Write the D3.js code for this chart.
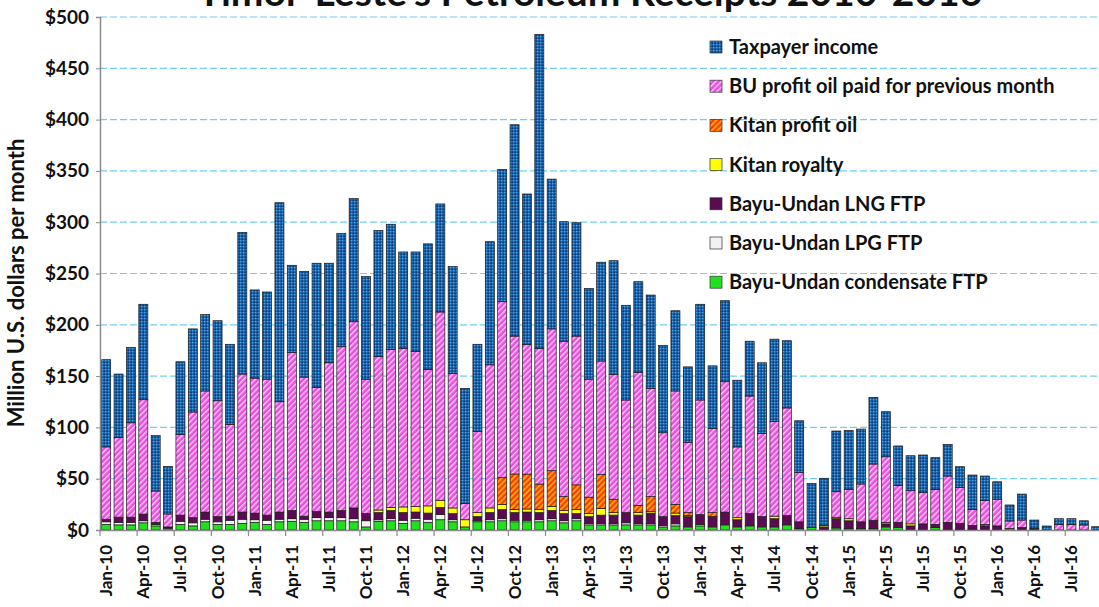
<!DOCTYPE html>
<html>
<head>
<meta charset="utf-8">
<script src="https://cdn.jsdelivr.net/npm/d3@7"></script>
<style>
  body { margin: 0; background: #fff; }
  svg { display: block; font-family: Lato, 'Open Sans', sans-serif; }
</style>
</head>
<body>
<svg id="chart" width="1099" height="607"></svg>
<script>
// monthly categories, Jan-10 .. Sep-16
const months = [
  'Jan-10','Feb-10','Mar-10','Apr-10','May-10','Jun-10','Jul-10','Aug-10','Sep-10','Oct-10','Nov-10','Dec-10',
  'Jan-11','Feb-11','Mar-11','Apr-11','May-11','Jun-11','Jul-11','Aug-11','Sep-11','Oct-11','Nov-11','Dec-11',
  'Jan-12','Feb-12','Mar-12','Apr-12','May-12','Jun-12','Jul-12','Aug-12','Sep-12','Oct-12','Nov-12','Dec-12',
  'Jan-13','Feb-13','Mar-13','Apr-13','May-13','Jun-13','Jul-13','Aug-13','Sep-13','Oct-13','Nov-13','Dec-13',
  'Jan-14','Feb-14','Mar-14','Apr-14','May-14','Jun-14','Jul-14','Aug-14','Sep-14','Oct-14','Nov-14','Dec-14',
  'Jan-15','Feb-15','Mar-15','Apr-15','May-15','Jun-15','Jul-15','Aug-15','Sep-15','Oct-15','Nov-15','Dec-15',
  'Jan-16','Feb-16','Mar-16','Apr-16','May-16','Jun-16','Jul-16','Aug-16','Sep-16'
];

// million US$ per month
const condensate = [
  5.5,5,5,7,4,1.5,5.5,4,8,5.5,5.5,6.5,
  7.5,5.5,8,8.5,7.5,9,9,9,8,3,8.5,9,
  6.5,9,7.5,10,8,3,8,8,9,8,8,8,
  9,7,9,5,5,5,5,5,5,3,4,3,
  4,3,5,3,4,3,3,5,1.5,2.5,0,2,
  1.5,1.5,1.5,3,2.5,0,0,2.5,0.5,0.5,0.5,0,
  0,0,0,0,0,0,0,0,0
];
const lpg = [
  2.5,2.5,2.5,2,1.5,0.5,3,3,2.5,2.5,4,4,
  2.5,4,2.5,2.5,3,3,3,3,3,6,1.5,2,
  3,2.5,3,5,2,0,1,2,2,1.5,1.5,2,
  2,2,2,1.5,1.5,1.5,2,1.5,1.5,1.5,2,0,
  1.5,0,0,0,0,0,0,0,0,0,0,0,
  0,0,0,0,0,0,0,0,0,0,0,0,
  0,0,0,0,0,0,0,0,0
];
const lng = [
  2.5,5,5,6.5,2,1,6,5,7,5,4,7,
  6.5,5,7,8,3,6,5.5,7,10.5,7,7,8,
  7.5,6,6,7,6,0,4,7,9,7.5,8,7,
  8,7,5,6.5,8,8,10,8,10,8.5,8,10,
  9.5,10,12.5,7,12,10,8,9,6.5,0,3,9,
  7.5,6.5,8,3,5,4,6,3,7,6,4,4,
  4,0,2.5,1.5,0,0,0,0,0
];
const kitanRoyalty = [
  0,0,0,0,0,0,0,0,0,0,0,0,
  0,0,0,0,0,0,0,0,0,0,2.5,3,
  5.5,5.5,7,7,5.5,7,4,4.5,5,3,3,3,
  4,3,4,3,6.5,2.5,0,2.5,1.5,0,2.5,1,
  0,0,0,2,0,0,2.5,0,0,0,1.5,1,
  2,0,0,1.5,0,2,0,0,0,0,0,0,
  0,0,0,0,0,0,0,0,0
];
const kitanProfit = [
  0,0,0,0,0,0,0,0,0,0,0,0,
  0,0,0,0,0,0,0,0,0,0,0,0,
  0,0,0,0,0,0,0,0,26,34.6,34,24.8,
  34.8,13.5,24,16,33,13,0,7,14.5,0,8.5,3,
  0,4,0,0,0,0,0,0,0,0,0,0,
  0,0,0,0,0,0,0,0,0,0,0,1.5,
  0,1.5,0,0,0,0,0,0,0
];
const buProfit = [
  70.5,77.5,92,111.5,30.5,12.6,78.5,103,118,113,89.5,134.5,
  131.5,132.5,107.5,154,135.5,121,145.5,159.6,181.5,131,149.5,154,
  154.5,151,133,183.5,131,16,79,139.5,171.5,134.4,126.5,132.2,
  138.2,151.5,145,115,110.7,121.7,109.7,129.7,105.5,81.8,110.5,68.5,
  111.7,82,127,69,114.6,81,92.1,105,47.9,0,0,25.3,
  28.6,36.8,54.8,63.9,36,32.3,30.4,34.1,45.1,34.8,15.5,23.1,
  26,7.3,7.2,0,0,5.5,5.5,4.9,0
];
const taxpayer = [
  85,62,73.5,93,54,46.4,71,81,74.5,78,78,138,
  86,85,194,85,103,121,97,110.4,120,100,123,122,
  94,97,122.4,105.3,104.3,112,85,120,129,206,146.5,306,
  146,116.5,110.5,88.5,96.3,110.8,92.3,88.3,91,85.2,78.2,73.5,
  93.3,61,79,65,53.4,69,80.4,65.5,50.6,43,45.9,59.2,
  57.4,53.6,65,43.9,38.4,34.1,36.7,30.9,30.9,20.4,33.6,24,
  17,15.6,25.3,8.2,3.9,5.5,5.5,4.1,3.2
];

const yTicks = [0, 50, 100, 150, 200, 250, 300, 350, 400, 450, 500];

// stack order bottom -> top
const seriesKeys = ['condensate', 'lpg', 'lng', 'kitanRoyalty', 'kitanProfit', 'buProfit', 'taxpayer'];
const seriesData = { condensate, lpg, lng, kitanRoyalty, kitanProfit, buProfit, taxpayer };

// legend order top -> bottom
const legendItems = [
  ['taxpayer', 'Taxpayer income'],
  ['buProfit', 'BU profit oil paid for previous month'],
  ['kitanProfit', 'Kitan profit oil'],
  ['kitanRoyalty', 'Kitan royalty'],
  ['lng', 'Bayu-Undan LNG FTP'],
  ['lpg', 'Bayu-Undan LPG FTP'],
  ['condensate', 'Bayu-Undan condensate FTP']
];

const fills = {
  taxpayer: 'url(#pat-tax)',
  buProfit: 'url(#pat-bu)',
  kitanProfit: 'url(#pat-kitan)',
  kitanRoyalty: '#ffff00',
  lng: '#5c0a52',
  lpg: '#f2f2f2',
  condensate: '#22e01e'
};

const svg = d3.select('#chart');
const defs = svg.append('defs');

const patTax = defs.append('pattern').attr('id', 'pat-tax')
  .attr('patternUnits', 'userSpaceOnUse').attr('width', 3).attr('height', 3);
patTax.append('rect').attr('width', 3).attr('height', 3).attr('fill', '#1d68b4');
patTax.append('rect').attr('x', 0).attr('y', 0).attr('width', 1.2).attr('height', 1.2).attr('fill', '#49a6e6');
patTax.append('rect').attr('x', 1.5).attr('y', 1.5).attr('width', 1.5).attr('height', 1.5).attr('fill', '#0c3a70');

const patBu = defs.append('pattern').attr('id', 'pat-bu')
  .attr('patternUnits', 'userSpaceOnUse').attr('width', 4).attr('height', 4)
  .attr('patternTransform', 'rotate(45)');
patBu.append('rect').attr('width', 4).attr('height', 4).attr('fill', '#ea4de0');
patBu.append('rect').attr('width', 1.4).attr('height', 4).attr('fill', '#ffd0fa');

const patKitan = defs.append('pattern').attr('id', 'pat-kitan')
  .attr('patternUnits', 'userSpaceOnUse').attr('width', 4).attr('height', 4)
  .attr('patternTransform', 'rotate(45)');
patKitan.append('rect').attr('width', 4).attr('height', 4).attr('fill', '#ff3a00');
patKitan.append('rect').attr('width', 1.6).attr('height', 4).attr('fill', '#ffbb00');

const margin = { left: 100, top: 17, bottom: 530 };
const step = 12.375;

const x = d3.scaleBand()
  .domain(months)
  .range([margin.left, margin.left + step * months.length])
  .paddingInner(0.27)
  .paddingOuter(0.135);

const y = d3.scaleLinear().domain([0, 500]).range([margin.bottom, margin.top]);

// title (cut off at the top of the picture)
svg.append('text')
  .attr('x', 590).attr('y', 6)
  .attr('text-anchor', 'middle')
  .attr('font-size', 39).attr('font-weight', 'bold').attr('fill', '#111')
  .text("Timor-Leste's Petroleum Receipts 2010-2016");

// gridlines
svg.append('g')
  .selectAll('line')
  .data(yTicks.filter(d => d > 0))
  .enter().append('line')
  .attr('x1', margin.left).attr('x2', 1099)
  .attr('y1', d => y(d)).attr('y2', d => y(d))
  .attr('stroke', '#74cdee').attr('stroke-width', 1.2)
  .attr('stroke-dasharray', '7,3');

// bars
const table = months.map((m, i) => {
  const row = { month: m };
  seriesKeys.forEach(k => { row[k] = seriesData[k][i]; });
  return row;
});
const stacked = d3.stack().keys(seriesKeys)(table);

svg.append('g')
  .selectAll('g')
  .data(stacked)
  .enter().append('g')
  .attr('fill', d => fills[d.key])
  .selectAll('rect')
  .data(d => d.filter(s => s[1] - s[0] > 0))
  .enter().append('rect')
  .attr('x', d => x(d.data.month))
  .attr('width', x.bandwidth())
  .attr('y', d => y(d[1]))
  .attr('height', d => y(d[0]) - y(d[1]))
  .attr('stroke', '#1a1a1a')
  .attr('stroke-width', 0.7);

// y axis
const yAxis = svg.append('g')
  .attr('transform', `translate(${margin.left},0)`)
  .call(d3.axisLeft(y).tickValues(yTicks).tickSize(4).tickFormat(d => '$' + d));
yAxis.select('.domain').attr('stroke', '#8a8a8a').attr('stroke-width', 1.5);
yAxis.selectAll('.tick line').attr('stroke', '#8a8a8a');
yAxis.selectAll('.tick text')
  .attr('x', -11)
  .attr('font-size', 19).attr('font-weight', 'bold').attr('fill', '#111')
  .attr('font-family', 'Lato, sans-serif');

// x axis
const xAxis = svg.append('g')
  .attr('transform', `translate(0,${margin.bottom})`)
  .call(d3.axisBottom(x).tickValues(months.filter((m, i) => i % 3 === 0)).tickSize(0).tickSizeOuter(0));
xAxis.select('.domain').attr('stroke', '#8a8a8a').attr('stroke-width', 1.5);
xAxis.selectAll('.tick text')
  .attr('transform', 'rotate(-90)')
  .attr('text-anchor', 'end')
  .attr('x', -15).attr('y', 0).attr('dy', '0.35em')
  .attr('font-size', 17).attr('font-weight', 'bold').attr('fill', '#111')
  .attr('font-family', 'Lato, sans-serif');

// tick marks between category groups
svg.append('g')
  .selectAll('line')
  .data(months.filter((m, i) => i % 3 === 0))
  .enter().append('line')
  .attr('x1', d => x(d) - x.step() * x.paddingInner() / 2)
  .attr('x2', d => x(d) - x.step() * x.paddingInner() / 2)
  .attr('y1', margin.bottom).attr('y2', margin.bottom + 6)
  .attr('stroke', '#8a8a8a').attr('stroke-width', 1.2);

// y axis title
svg.append('text')
  .attr('transform', 'translate(24,283) rotate(-90)')
  .attr('text-anchor', 'middle')
  .attr('font-size', 22).attr('font-weight', 'bold').attr('fill', '#111')
  .text('Million U.S. dollars per month');

// legend
const legend = svg.append('g').attr('transform', 'translate(710,47)');
const item = legend.selectAll('g')
  .data(legendItems)
  .enter().append('g')
  .attr('transform', (d, i) => `translate(0,${i * 39.2})`);
item.append('rect')
  .attr('x', 0).attr('y', -6)
  .attr('width', 12).attr('height', 12)
  .attr('fill', d => fills[d[0]])
  .attr('stroke', '#333').attr('stroke-width', 0.7);
item.append('text')
  .attr('x', 19).attr('y', 0).attr('dy', '0.35em')
  .attr('font-size', 20).attr('font-weight', 'bold').attr('fill', '#111')
  .text(d => d[1]);
</script>
</body>
</html>
